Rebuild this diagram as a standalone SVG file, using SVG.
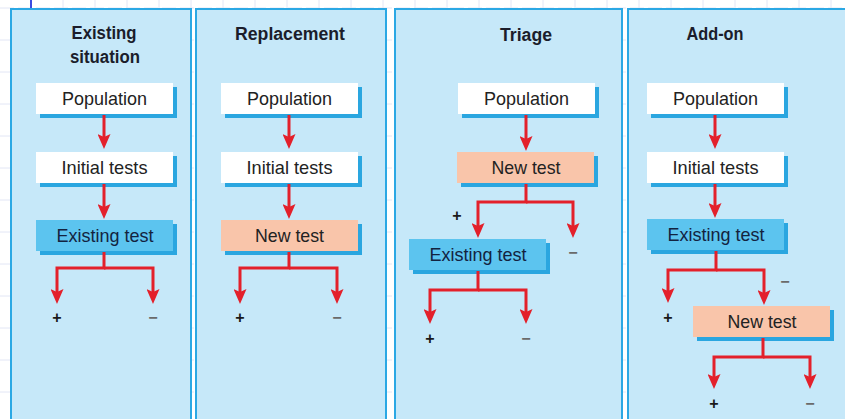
<svg xmlns="http://www.w3.org/2000/svg" width="845" height="419" viewBox="0 0 845 419">
<style>
.grid{stroke:#e2e6f5;stroke-width:1;stroke-dasharray:14 4;fill:none}
.panel{fill:#c6e8f9;stroke:#2ba8e4;stroke-width:2}
.title{font-family:"Liberation Sans",Arial,sans-serif;font-weight:bold;font-size:18px;fill:#1b1d2b;text-anchor:middle}
.lbl{font-family:"Liberation Sans",Arial,sans-serif;font-size:19px;fill:#222;text-anchor:middle}
.lbl2{font-family:"Liberation Sans",Arial,sans-serif;font-size:19px;fill:#13233f;text-anchor:middle}
.shadow{fill:#2aa6e0}
.white{fill:#ffffff}
.blue{fill:#5cc4ef}
.salmon{fill:#f9c5aa}
.conn{fill:none;stroke:#e3202b;stroke-width:3;stroke-linejoin:miter}
.sign{font-family:"Liberation Sans",Arial,sans-serif;font-weight:bold;font-size:16px;fill:#1a1a1a;text-anchor:middle}
.minus{font-family:"Liberation Sans",Arial,sans-serif;font-weight:bold;font-size:16px;fill:#6a6a6a;text-anchor:middle}
</style>
<defs>
<marker id="ah" markerUnits="userSpaceOnUse" viewBox="0 0 15 13" refX="6" refY="6.5" markerWidth="15" markerHeight="13" orient="auto">
<path d="M0,0 L15,6.5 L0,13 L3,6.5 z" fill="#e3202b"/>
</marker>
</defs>
<rect x="0" y="0" width="845" height="419" fill="#ffffff"/>
<g id="grid">
<path class="grid" d="M0,8 H845 M0,40 H845 M0,72 H845 M0,104 H845 M0,136 H845 M0,168 H845 M0,200 H845 M0,232 H845 M0,264 H845 M0,296 H845 M0,328 H845 M0,360 H845 M0,392 H845"/>
<path class="grid" d="M63,0 V419 M95,0 V419 M127,0 V419 M159,0 V419 M191,0 V419 M223,0 V419 M255,0 V419 M287,0 V419 M319,0 V419 M351,0 V419 M383,0 V419 M415,0 V419 M447,0 V419 M479,0 V419 M511,0 V419 M543,0 V419 M575,0 V419 M607,0 V419 M639,0 V419 M671,0 V419 M703,0 V419 M735,0 V419 M767,0 V419 M799,0 V419 M831,0 V419"/>
<line x1="31" y1="0" x2="31" y2="9" stroke="#3b4be0" stroke-width="2"/>
</g>
<g id="panels">
<rect class="panel" x="11" y="9" width="180" height="420"/>
<rect class="panel" x="196" y="9" width="190" height="420"/>
<rect class="panel" x="395" y="9" width="227" height="420"/>
<rect class="panel" x="628" y="9" width="230" height="420"/>
</g>
<g id="titles">
<text class="title" x="104" y="39" textLength="65" lengthAdjust="spacingAndGlyphs">Existing</text>
<text class="title" x="105" y="63" textLength="70" lengthAdjust="spacingAndGlyphs">situation</text>
<text class="title" x="290" y="40" textLength="110" lengthAdjust="spacingAndGlyphs">Replacement</text>
<text class="title" x="526" y="41" textLength="52" lengthAdjust="spacingAndGlyphs">Triage</text>
<text class="title" x="715" y="40" textLength="57" lengthAdjust="spacingAndGlyphs">Add-on</text>
</g>
<g id="p1-population"><rect class="shadow" x="40" y="87" width="137" height="31"/><rect class="white" x="36" y="83" width="137" height="31"/><text class="lbl" x="104.5" y="105" textLength="85" lengthAdjust="spacingAndGlyphs">Population</text></g>
<g id="p1-initial"><rect class="shadow" x="40" y="156" width="137" height="31"/><rect class="white" x="36" y="152" width="137" height="31"/><text class="lbl" x="104.5" y="174" textLength="86" lengthAdjust="spacingAndGlyphs">Initial tests</text></g>
<g id="p1-existing"><rect class="shadow" x="40" y="224" width="137" height="31"/><rect class="blue" x="36" y="220" width="137" height="31"/><text class="lbl2" x="105" y="242" textLength="97" lengthAdjust="spacingAndGlyphs">Existing test</text></g>
<g id="p2-population"><rect class="shadow" x="225" y="87" width="137" height="31"/><rect class="white" x="221" y="83" width="137" height="31"/><text class="lbl" x="289.5" y="105" textLength="85" lengthAdjust="spacingAndGlyphs">Population</text></g>
<g id="p2-initial"><rect class="shadow" x="225" y="156" width="137" height="31"/><rect class="white" x="221" y="152" width="137" height="31"/><text class="lbl" x="289.5" y="174" textLength="86" lengthAdjust="spacingAndGlyphs">Initial tests</text></g>
<g id="p2-new"><rect class="shadow" x="225" y="224" width="137" height="31"/><rect class="salmon" x="221" y="220" width="137" height="31"/><text class="lbl" x="289.5" y="242" textLength="69" lengthAdjust="spacingAndGlyphs">New test</text></g>
<g id="p3-population"><rect class="shadow" x="462" y="87" width="137" height="31"/><rect class="white" x="458" y="83" width="137" height="31"/><text class="lbl" x="526.5" y="105" textLength="85" lengthAdjust="spacingAndGlyphs">Population</text></g>
<g id="p3-new"><rect class="shadow" x="461" y="156" width="137" height="31"/><rect class="salmon" x="457" y="152" width="137" height="31"/><text class="lbl" x="526" y="174" textLength="69" lengthAdjust="spacingAndGlyphs">New test</text></g>
<g id="p3-existing"><rect class="shadow" x="413" y="243" width="137" height="31"/><rect class="blue" x="409" y="239" width="137" height="31"/><text class="lbl2" x="478" y="261" textLength="97" lengthAdjust="spacingAndGlyphs">Existing test</text></g>
<g id="p4-population"><rect class="shadow" x="651" y="87" width="137" height="31"/><rect class="white" x="647" y="83" width="137" height="31"/><text class="lbl" x="715.5" y="105" textLength="85" lengthAdjust="spacingAndGlyphs">Population</text></g>
<g id="p4-initial"><rect class="shadow" x="651" y="156" width="137" height="31"/><rect class="white" x="647" y="152" width="137" height="31"/><text class="lbl" x="715.5" y="174" textLength="86" lengthAdjust="spacingAndGlyphs">Initial tests</text></g>
<g id="p4-existing"><rect class="shadow" x="651" y="223" width="137" height="31"/><rect class="blue" x="647" y="219" width="137" height="31"/><text class="lbl2" x="716" y="241" textLength="97" lengthAdjust="spacingAndGlyphs">Existing test</text></g>
<g id="p4-new"><rect class="shadow" x="697" y="310" width="137" height="31"/><rect class="salmon" x="693" y="306" width="137" height="31"/><text class="lbl" x="762" y="328" textLength="69" lengthAdjust="spacingAndGlyphs">New test</text></g>
<g id="connectors">
<path class="conn" d="M104,115 V140" marker-end="url(#ah)"/>
<path class="conn" d="M104,184 V210" marker-end="url(#ah)"/>
<path class="conn" d="M104,252 V268 H57 V295" marker-end="url(#ah)"/>
<path class="conn" d="M104,268 H153 V295" marker-end="url(#ah)"/>
<path class="conn" d="M289,115 V140" marker-end="url(#ah)"/>
<path class="conn" d="M289,184 V210" marker-end="url(#ah)"/>
<path class="conn" d="M289,252 V268 H240 V295" marker-end="url(#ah)"/>
<path class="conn" d="M289,268 H337 V295" marker-end="url(#ah)"/>
<path class="conn" d="M526,115 V142" marker-end="url(#ah)"/>
<path class="conn" d="M526,184 V202 H478 V229" marker-end="url(#ah)"/>
<path class="conn" d="M526,202 H573 V229" marker-end="url(#ah)"/>
<path class="conn" d="M478,271 V290 H430 V315" marker-end="url(#ah)"/>
<path class="conn" d="M478,290 H526 V315" marker-end="url(#ah)"/>
<path class="conn" d="M715,115 V140" marker-end="url(#ah)"/>
<path class="conn" d="M715,184 V209" marker-end="url(#ah)"/>
<path class="conn" d="M716,251 V270 H668 V294" marker-end="url(#ah)"/>
<path class="conn" d="M716,270 H764 V296" marker-end="url(#ah)"/>
<path class="conn" d="M763,338 V357 H714 V380" marker-end="url(#ah)"/>
<path class="conn" d="M763,357 H810 V380" marker-end="url(#ah)"/>
</g>
<g id="signs">
<text class="sign" x="57" y="323">+</text>
<text class="minus" x="153" y="323">−</text>
<text class="sign" x="240" y="323">+</text>
<text class="minus" x="337" y="323">−</text>
<text class="sign" x="457" y="221">+</text>
<text class="minus" x="573" y="258">−</text>
<text class="sign" x="430" y="344">+</text>
<text class="minus" x="526" y="344">−</text>
<text class="sign" x="668" y="323">+</text>
<text class="minus" x="785" y="287">−</text>
<text class="sign" x="714" y="409">+</text>
<text class="minus" x="810" y="409">−</text>
</g>
</svg>
